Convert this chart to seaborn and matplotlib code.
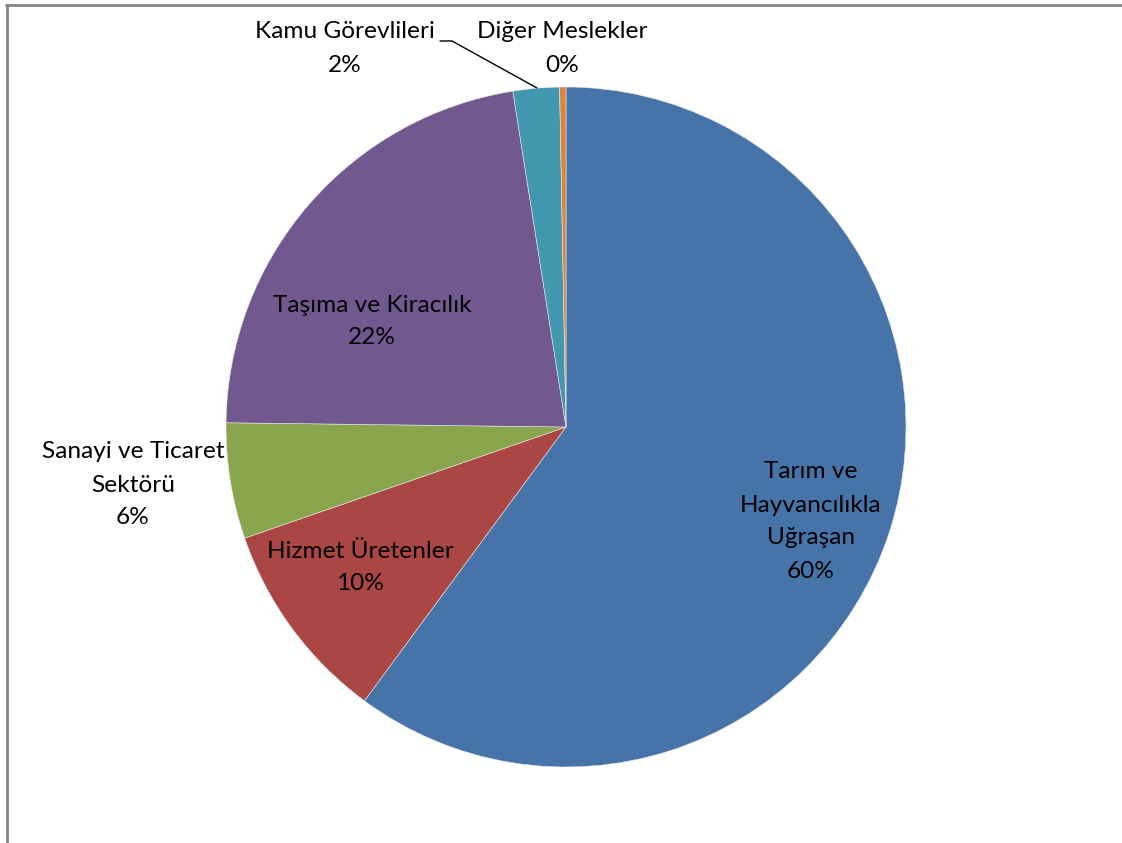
import matplotlib
matplotlib.use("Agg")
import matplotlib.pyplot as plt
import seaborn as sns
from matplotlib.lines import Line2D

categories = ["Tarım ve\nHayvancılıkla\nUğraşan", "Hizmet Üretenler", "Sanayi ve Ticaret\nSektörü",
              "Taşıma ve Kiracılık", "Kamu Görevlileri", "Diğer Meslekler"]
values = [60.1, 9.6, 5.5, 22.3, 2.2, 0.3]
pct_labels = ["60%", "10%", "6%", "22%", "2%", "0%"]
colors = ["#4674A8", "#AA4644", "#89A54E", "#71588F", "#4298AF", "#DB843D"]

sns.set_theme(style="white")
plt.rcParams['font.family'] = ['Lato', 'DejaVu Sans']

W, H = 1122, 843
fig = plt.figure(figsize=(W / 100, H / 100), dpi=100)
ax = fig.add_axes([0, 0, 1, 1])

pal = sns.color_palette(colors)
cx, cy, r = 566, 427, 340
wedges, _ = ax.pie(values, colors=pal, startangle=90, counterclock=False,
                   center=(cx, cy), radius=r, frame=True,
                   wedgeprops=dict(edgecolor="#e8e8e8", linewidth=0.4))
ax.set_xlim(0, W)
ax.set_ylim(H, 0)
ax.set_aspect("auto")
ax.axis("off")
# y-axis is inverted (pixel-like coordinates), so mirror the wedge angles
for w in wedges:
    t1, t2 = w.theta1, w.theta2
    w.set_theta1(-t2)
    w.set_theta2(-t1)

label_pos = [(811, 472), (360, 551), (133, 452), (372, 305), (345, 32), (562, 32)]
fs = 17.6
lh = 33
for cat, pct, (x, y) in zip(categories, pct_labels, label_pos):
    lines = cat.split("\n") + [pct]
    for i, ln in enumerate(lines):
        ax.text(x, y + i * lh, ln, ha="center", va="center", fontsize=fs, color="black")

# leader line for Kamu Görevlileri
ax.add_line(Line2D([440, 452, 537], [41, 41, 88], color="black", lw=1))

# frame lines
fig.add_artist(Line2D([6 / W, 1], [1 - 5 / H, 1 - 5 / H], transform=fig.transFigure, color="#868686", lw=2))
fig.add_artist(Line2D([7 / W, 7 / W], [0, 1 - 5 / H], transform=fig.transFigure, color="#868686", lw=2))

fig.savefig("out.png", dpi=100)
